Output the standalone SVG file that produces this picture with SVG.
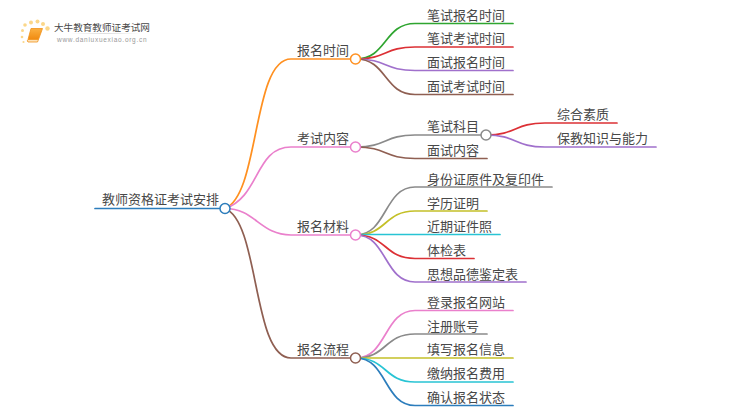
<svg xmlns="http://www.w3.org/2000/svg" width="750" height="410" viewBox="0 0 750 410">
<defs><linearGradient id="bk" x1="0" y1="0" x2="0" y2="1"><stop offset="0" stop-color="#fbb040"/><stop offset="1" stop-color="#f08a10"/></linearGradient>
<linearGradient id="sep"><stop offset="0" stop-color="#ddd" stop-opacity="0"/><stop offset=".5" stop-color="#ddd"/><stop offset="1" stop-color="#ddd" stop-opacity="0"/></linearGradient></defs>
<style>
text{font-family:"Noto Sans CJK SC","Noto Sans",sans-serif;font-size:13px;fill:#484848}
.c path{fill:none;stroke-width:1.7;stroke-linecap:round}
.n circle{fill:#fff;stroke-width:1.5}
.o{stroke:#ff9020}.p{stroke:#ea80cc}.b{stroke:#8f5f52}.g{stroke:#2fa530}.r{stroke:#dc3035}.v{stroke:#a070cc}.y{stroke:#8a8a8a}.l{stroke:#c4c028}.t{stroke:#28c4d4}.u{stroke:#2c7dbc}
</style>
<rect width="750" height="410" fill="#fff"/>
<g id="logo">
<g fill="#fbd78a"><circle cx="25" cy="25" r="1.800"/><circle cx="31" cy="22.500" r="2"/><circle cx="37.500" cy="21.500" r="2"/><circle cx="43" cy="24" r="2"/><circle cx="47.500" cy="28.500" r="2.200"/><circle cx="22.500" cy="30.500" r="1.500"/><circle cx="22" cy="37" r="1.300"/><circle cx="23.500" cy="42" r="1.100"/></g>
<path d="M31 28.500H42.500L38.500 39.500H28Z" fill="url(#bk)" stroke="#f0921a" stroke-width=".8"/><path d="M28 39.500H38.500L37.500 42H28Q26.500 41 28 39.500Z" fill="#fde2b8" stroke="#f0921a" stroke-width=".8"/>
<text x="54" y="31" style="font-size:9.6px">大牛教育教师证考试网</text>
<rect x="70" y="33" width="70" height="1" fill="url(#sep)"/>
<text x="57" y="41.500" style="font-size:6.500px;letter-spacing:.72px;fill:#999;font-family:'Liberation Sans',sans-serif">www.daniuxuexiao.org.cn</text>
</g>
<g id="connectors" class="c">
<path class="u" d="M95 208.500H225"/>
<path class="o" d="M225 208.500C260 195 252 59 291 59H355"/>
<path class="p" d="M225 208.500C260 197 255 147 291 147H355"/>
<path class="p" d="M225 208.500C255 208.500 260 235 291 235H355"/>
<path class="b" d="M225 208.500C260 222 252 358 291 358H355"/>
<path class="g" d="M356 59C387 59 384 23.500 415 23.500H513"/>
<path class="r" d="M356 59C387 59 384 47 415 47H513"/>
<path class="v" d="M356 59C387 59 384 70.500 415 70.500H513"/>
<path class="b" d="M356 59C387 59 384 94.500 415 94.500H513"/>
<path class="y" d="M356 147C387 147 384 135 415 135H486"/>
<path class="b" d="M356 147C387 147 384 158.500 415 158.500H487"/>
<path class="r" d="M486 135C517 135 514 123 545 123H617"/>
<path class="v" d="M486 135C517 135 514 147 545 147H656"/>
<path class="y" d="M356 235C387 235 384 187 415 187H552"/>
<path class="l" d="M356 235C387 235 384 211 415 211H487"/>
<path class="t" d="M356 234.500H500"/>
<path class="r" d="M356 235C387 235 384 258.500 415 258.500H474"/>
<path class="v" d="M356 235C387 235 384 282 415 282H526"/>
<path class="p" d="M356 358C387 358 384 310.500 415 310.500H513"/>
<path class="y" d="M356 358C387 358 384 334 415 334H487"/>
<path class="l" d="M356 358H513"/>
<path class="t" d="M356 358C387 358 384 382 415 382H513"/>
<path class="u" d="M356 358C387 358 384 405.500 415 405.500H513"/>
</g>
<g id="root" class="n"><text x="102" y="204">教师资格证考试安排</text><circle class="u" cx="225" cy="208.500" r="5"/></g>
<g id="n1" class="n"><text x="297" y="55">报名时间</text><circle class="o" cx="355.500" cy="59" r="5"/></g>
<g id="n2" class="n"><text x="297" y="143">考试内容</text><circle class="p" cx="355.500" cy="147" r="5"/></g>
<g id="n3" class="n"><text x="297" y="231">报名材料</text><circle class="p" cx="355.500" cy="235" r="5"/></g>
<g id="n4" class="n"><text x="297" y="354">报名流程</text><circle class="b" cx="355.500" cy="358" r="5"/></g>
<g id="n11"><text x="427" y="20">笔试报名时间</text></g>
<g id="n12"><text x="427" y="43">笔试考试时间</text></g>
<g id="n13"><text x="427" y="67">面试报名时间</text></g>
<g id="n14"><text x="427" y="91">面试考试时间</text></g>
<g id="n21" class="n"><text x="427" y="131">笔试科目</text><circle class="y" cx="486" cy="135" r="5"/></g>
<g id="n22"><text x="427" y="155">面试内容</text></g>
<g id="n211"><text x="557" y="119">综合素质</text></g>
<g id="n212"><text x="557" y="143">保教知识与能力</text></g>
<g id="n31"><text x="427" y="184">身份证原件及复印件</text></g>
<g id="n32"><text x="427" y="208">学历证明</text></g>
<g id="n33"><text x="427" y="231">近期证件照</text></g>
<g id="n34"><text x="427" y="255">体检表</text></g>
<g id="n35"><text x="427" y="279">思想品德鉴定表</text></g>
<g id="n41"><text x="427" y="307">登录报名网站</text></g>
<g id="n42"><text x="427" y="331">注册账号</text></g>
<g id="n43"><text x="427" y="354">填写报名信息</text></g>
<g id="n44"><text x="427" y="378">缴纳报名费用</text></g>
<g id="n45"><text x="427" y="402">确认报名状态</text></g>
</svg>
